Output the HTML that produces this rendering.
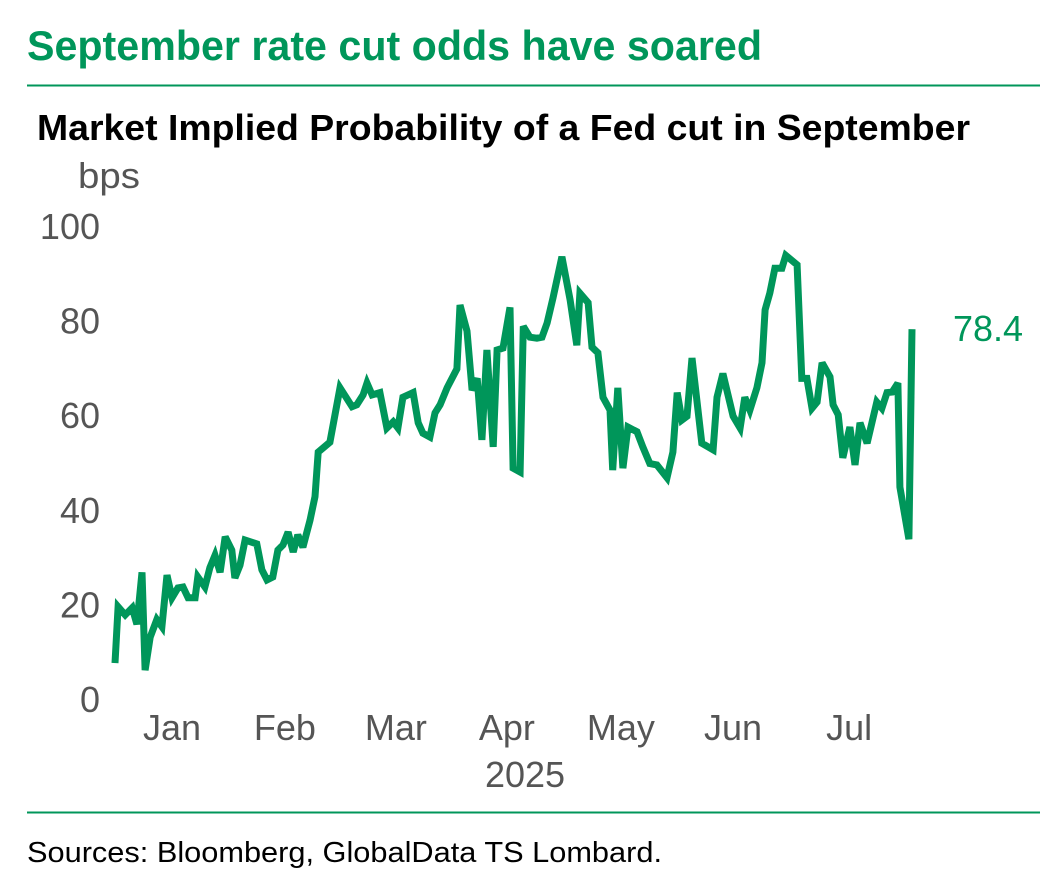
<!DOCTYPE html>
<html><head><meta charset="utf-8"><style>
html,body{margin:0;padding:0;background:#fff;}
svg{display:block;font-family:"Liberation Sans",sans-serif;}
</style></head><body>
<svg id="chart" width="1062" height="890" viewBox="0 0 1062 890">
<text x="27" y="60" font-size="42" font-weight="bold" fill="#00965a" textLength="735" lengthAdjust="spacingAndGlyphs">September rate cut odds have soared</text>
<line x1="27" y1="85.5" x2="1040" y2="85.5" stroke="#00965a" stroke-width="2"/>
<text x="37" y="140" font-size="36" font-weight="bold" fill="#000" textLength="933" lengthAdjust="spacingAndGlyphs">Market Implied Probability of a Fed cut in September</text>
<text x="78" y="188" font-size="36" fill="#555" textLength="62" lengthAdjust="spacingAndGlyphs">bps</text>
<g id="yticks"></g>
<g id="xticks"></g>
<text x="525" y="787" font-size="36" fill="#555" text-anchor="middle">2025</text>
<path id="series" fill="none" stroke="#00965a" stroke-width="7" stroke-linejoin="miter" stroke-miterlimit="3"/>
<text id="lastlabel" x="953" y="340" font-size="36" fill="#00965a"></text>
<line x1="27" y1="812.5" x2="1040" y2="812.5" stroke="#00965a" stroke-width="2"/>
<text x="27" y="862" font-size="29" fill="#000" textLength="635" lengthAdjust="spacingAndGlyphs">Sources: Bloomberg, GlobalData TS Lombard.</text>
</svg>
<script>
const days = [0,0.8,2.6,4.4,5.6,6.9,7.7,9,10.7,12,13.3,14.6,16.1,17.4,18.7,20.5,21.2,23,24.3,25.6,26.9,28.2,29.9,30.7,32,33.3,36.3,37.6,38.9,40.4,41.7,43,44.3,45.6,46.8,48.1,49.9,51.2,52,55,57.6,60.7,61.9,63.5,64.5,65.8,67.8,69.6,71.2,72.4,73.7,76.3,77.6,78.8,80.6,81.9,83.2,85,87.5,88.3,90.1,91.4,92.7,93.9,95.2,96.8,97.8,99.3,101.1,101.9,103.7,104.5,106.2,108,109.3,110.6,112.1,114.4,116.5,118.2,119,121.1,122.1,123.6,124.9,126.7,127.4,128.7,130,131.3,133.6,135.1,136.9,138.7,141.3,142.8,143.9,145.1,146.4,147.7,150.2,153.1,154.1,155.6,158.2,160,161.2,162.5,164.3,165.6,166.4,167.6,168.9,170.7,171.7,174.6,175.8,177.1,178.4,179.7,181,183,183.8,185.1,186.3,188.1,189.4,190.7,192.5,195,196.3,197.6,198.9,200.4,200.9,203.2,204];
const values = [7.8,19.7,18,19.5,16,27,6.3,13.3,17,15.5,26.4,21.6,23.7,23.9,21.6,21.6,26,23.9,28,30.6,27,34.5,31.7,25.8,28.5,33.8,33,27.5,25.4,26,31.7,32.8,35.5,31.3,34.9,32.3,38,43,52.4,54.5,66,62,62.4,64.5,67,64.5,65,57.5,58.8,57.5,64,65,58.6,56.4,55.6,60.7,62.4,66,70,83.5,78,65.5,68,55,74,53.5,74,74.4,83,49,48.2,79,76.7,76.5,76.7,79.7,85,93.7,84.6,75,86,84,74.6,73.4,64,61.3,48.6,66,49,57.7,56.7,53.5,50,49.7,47,52.4,65,59.2,60,72.3,54.3,52.9,64,69,60,57.5,64,61.3,66,71.3,82.5,86,91.3,91.3,94,92,68,68,61.7,63,71.3,68.3,62.4,60.3,51.2,57.7,49.7,58.6,54.3,63,61.7,65,65.1,67,45,34,78.4];
const yTicks = [0,20,40,60,80,100];
const monthLabels = ["Jan","Feb","Mar","Apr","May","Jun","Jul"];
const monthLabelDays = [14.6,43.5,71.9,100.3,129.5,158.2,187.9];

const NS="http://www.w3.org/2000/svg";
const xs = d => 115 + d*(912-115)/204;
const ys = v => 700 - v*(700-227)/100;

const yg=document.getElementById('yticks');
yTicks.forEach(t=>{
  const el=document.createElementNS(NS,'text');
  
  
  el.setAttribute('x',100);el.setAttribute('y',ys(t)+12);
  el.setAttribute('text-anchor','end');el.setAttribute('font-size','36');el.setAttribute('fill','#555');
  el.textContent=t;yg.appendChild(el);
});
const xg=document.getElementById('xticks');
monthLabels.forEach((m,i)=>{
  const el=document.createElementNS(NS,'text');
  
  
  el.setAttribute('x',xs(monthLabelDays[i]));el.setAttribute('y',740);
  el.setAttribute('text-anchor','middle');el.setAttribute('font-size','36');el.setAttribute('fill','#555');
  el.textContent=m;xg.appendChild(el);
});
let d='';
days.forEach((dd,i)=>{d+=(i?'L':'M')+xs(dd).toFixed(1)+' '+ys(values[i]).toFixed(1);});
document.getElementById('series').setAttribute('d',d);
const lab=document.getElementById('lastlabel');
lab.textContent=values[values.length-1].toFixed(1);
lab.setAttribute('y',ys(values[values.length-1])+12);
</script>
</body></html>
